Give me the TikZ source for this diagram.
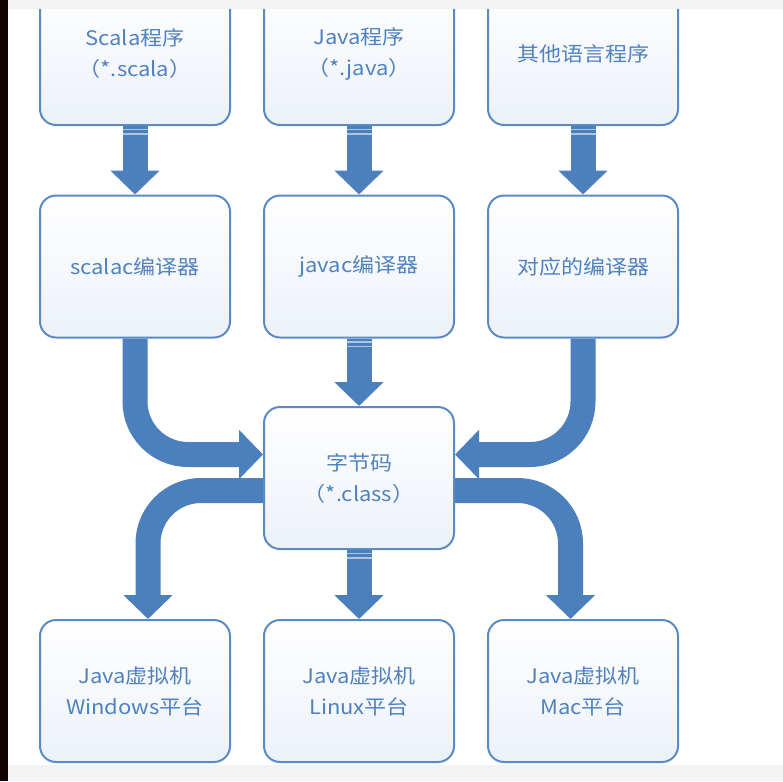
\documentclass[tikz,border=0pt]{standalone}
\usepackage{fontspec}
\setmainfont{Noto Sans CJK SC}[FakeStretch=1.1]
\usetikzlibrary{arrows.meta,calc}
\definecolor{arrowblue}{RGB}{76,128,188}
\definecolor{boxline}{RGB}{92,139,195}
\definecolor{boxtext}{RGB}{80,130,190}
\definecolor{boxfill}{RGB}{236,241,249}
\definecolor{darkbar}{RGB}{20,3,3}
\definecolor{stripgray}{RGB}{244,244,245}
\pgfdeclarelayer{bg}
\pgfsetlayers{bg,main}
\begin{document}
\begin{tikzpicture}[x=1pt,y=-1pt,
  box/.style={draw=boxline, line width=2pt, rounded corners=16pt,
    minimum width=190pt, minimum height=142pt, inner sep=0pt,
    top color=white, bottom color=boxfill, text=boxtext, align=center,
    font=\fontsize{20}{31}\selectfont},
  flow/.style={draw=arrowblue, line width=25pt, rounded corners=53pt,
    -{Triangle[width=48pt,length=24pt]}},
  stripe/.style={draw=arrowblue!45!white, line width=1.3pt}]
\useasboundingbox (0,0) rectangle (783,781);

\node[box] (sp) at (135,54) {Scala程序\\（*.scala）};
\node[box] (jp) at (359,54) {Java程序\\（*.java）};
\node[box] (op) at (583,54) {其他语言程序};
\node[box] (sc) at (135,266.5) {scalac编译器};
\node[box] (jc) at (359,266.5) {javac编译器};
\node[box] (oc) at (583,266.5) {对应的编译器};
\node[box] (bc) at (359,478) {字节码\\（*.class）};
\node[box] (wv) at (135,691) {Java虚拟机\\Windows平台};
\node[box] (lv) at (359,691) {Java虚拟机\\Linux平台};
\node[box] (mv) at (583,691) {Java虚拟机\\Mac平台};

\begin{pgfonlayer}{bg}
\fill[white] (0,0) rectangle (783,781);
\draw[flow] (sp.south) -- (sc.north);
\draw[flow] (jp.south) -- (jc.north);
\draw[flow] (op.south) -- (oc.north);
\draw[flow] (sc.south) |- ($(bc.west)+(0,-23.5)$);
\draw[flow] (jc.south) -- (bc.north);
\draw[flow] (oc.south) |- ($(bc.east)+(0,-23.5)$);
\draw[flow] ($(bc.west)+(0,12.5)$) -| ($(wv.north)+(13,0)$);
\draw[flow] (bc.south) -- (lv.north);
\draw[flow] ($(bc.east)+(0,12.5)$) -| ($(mv.north)+(-12.5,0)$);
\end{pgfonlayer}

\foreach \n in {sp,jp,op,jc,bc}{
  \draw[stripe] ($(\n.south)+(-12.5,3.5)$) -- ($(\n.south)+(12.5,3.5)$);
  \draw[stripe] ($(\n.south)+(-12.5,8)$) -- ($(\n.south)+(12.5,8)$);
}

\fill[stripgray] (8,0) rectangle (783,9);
\fill[stripgray] (8,765) rectangle (783,781);
\fill[darkbar] (0,0) rectangle (8,781);
\end{tikzpicture}
\end{document}
